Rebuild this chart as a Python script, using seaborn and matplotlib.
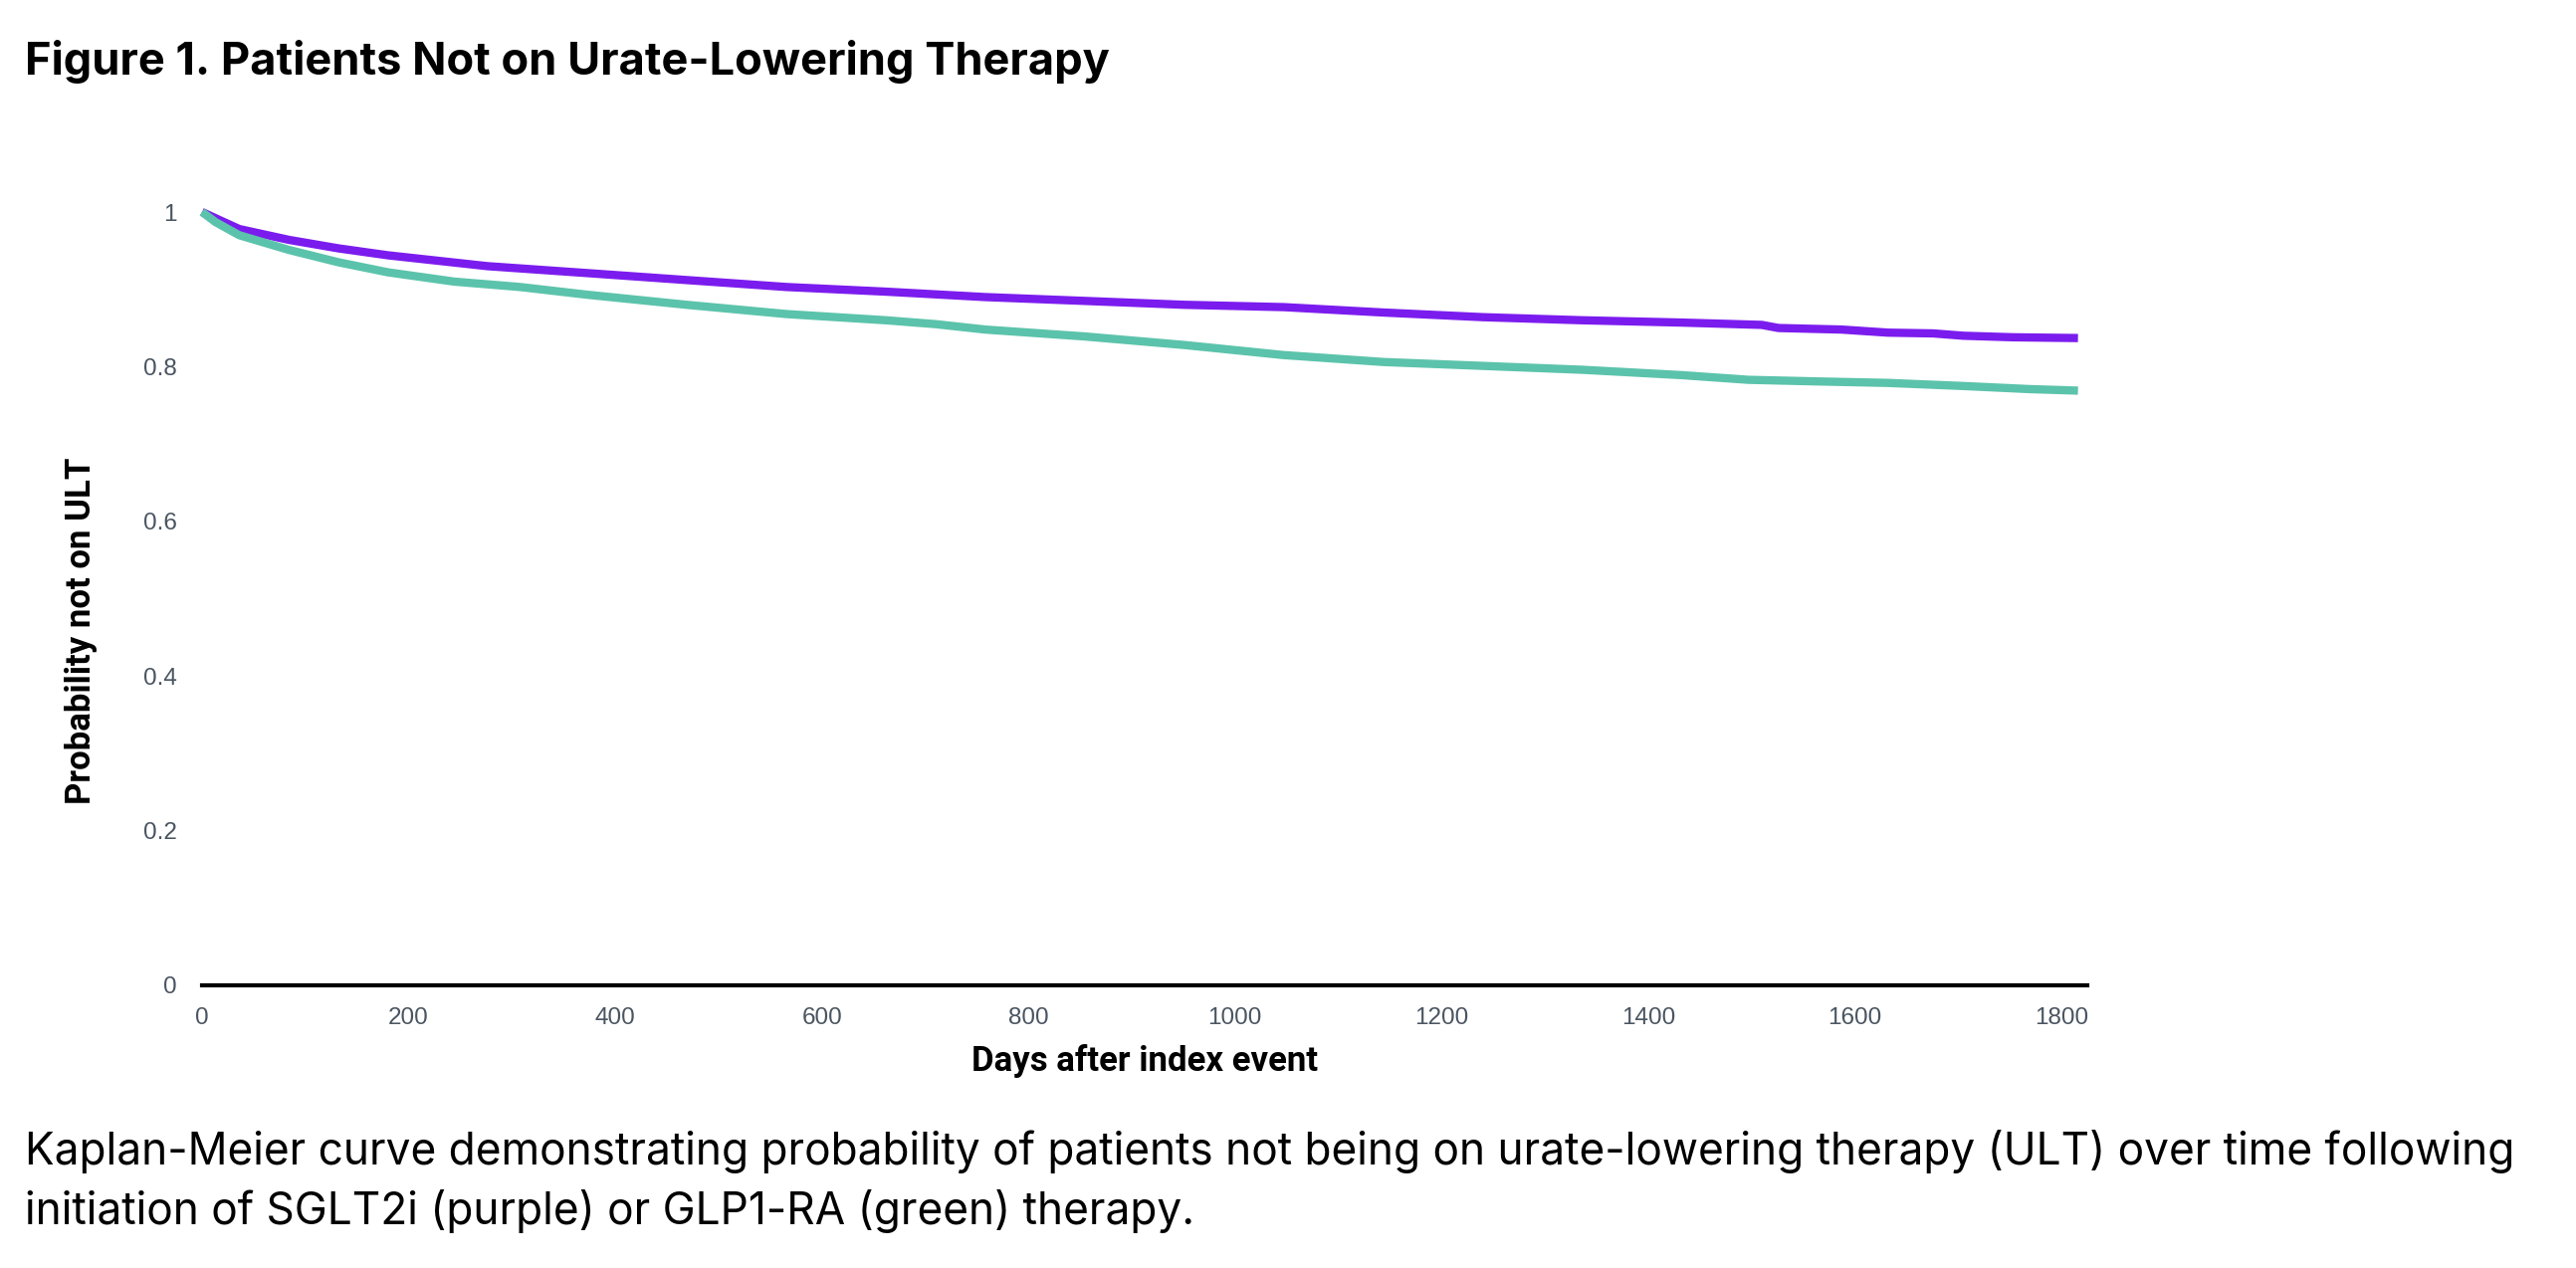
import pandas as pd
import matplotlib
matplotlib.use("Agg")
import matplotlib.pyplot as plt
import seaborn as sns

# values
days_sglt2 = [0, 13, 36, 84, 132, 180, 228, 276, 373, 469, 566, 662, 758, 855, 951,
              1047, 1144, 1240, 1336, 1433, 1510, 1526, 1587, 1632, 1676, 1705, 1753, 1816]
surv_sglt2 = [1.0, 0.992, 0.978, 0.964, 0.953, 0.944, 0.937, 0.930, 0.921, 0.912, 0.903,
              0.897, 0.890, 0.885, 0.880, 0.877, 0.870, 0.864, 0.860, 0.857, 0.854, 0.850,
              0.848, 0.844, 0.843, 0.840, 0.838, 0.837]

days_glp1 = [0, 13, 36, 84, 132, 180, 244, 308, 373, 469, 566, 662, 710, 758, 855, 951,
             1047, 1144, 1240, 1336, 1433, 1497, 1561, 1632, 1705, 1769, 1816]
surv_glp1 = [1.0, 0.987, 0.970, 0.951, 0.935, 0.922, 0.910, 0.903, 0.893, 0.880, 0.868,
             0.860, 0.855, 0.848, 0.839, 0.828, 0.815, 0.806, 0.801, 0.796, 0.789, 0.783,
             0.781, 0.779, 0.775, 0.771, 0.769]

group_names = ['SGLT2i', 'GLP1-RA']
group_colors = ['#7B1CEE', '#5BC3AB']
x_ticks = [0, 200, 400, 600, 800, 1000, 1200, 1400, 1600, 1800]
y_ticks = [0, 0.2, 0.4, 0.6, 0.8, 1]
y_tick_labels = ['0', '0.2', '0.4', '0.6', '0.8', '1']

km = pd.concat([
    pd.DataFrame({'days': days_sglt2, 'surv': surv_sglt2, 'group': group_names[0]}),
    pd.DataFrame({'days': days_glp1, 'surv': surv_glp1, 'group': group_names[1]}),
])

sns.set_style('white')
plt.rcParams['font.family'] = ['Roboto', 'DejaVu Sans']
plt.rcParams['text.color'] = 'black'

fig = plt.figure(figsize=(25.88, 12.74), dpi=100)
W, H = 2588, 1274
ax = fig.add_axes([203 / W, 1 - 990 / H, (2097 - 203) / W, (990 - 213) / H])

sns.lineplot(data=km, x='days', y='surv', hue='group', palette=group_colors,
             hue_order=group_names, linewidth=6, legend=False, ax=ax,
             estimator=None, sort=True)
for ln in ax.get_lines():
    ln.set_clip_on(False)
    ln.set_solid_capstyle('butt')

ax.set_xlim(0, 1825)
ax.set_ylim(0, 1)
ax.set_xticks(x_ticks + [1825])
ax.set_xticklabels([str(t) for t in x_ticks] + [''])
ax.set_yticks(y_ticks)
ax.set_yticklabels(y_tick_labels)
ax.set_xlabel('')
ax.set_ylabel('')

for s in ['top', 'right', 'left']:
    ax.spines[s].set_visible(False)
ax.spines['bottom'].set_color('black')
ax.spines['bottom'].set_linewidth(3)

ax.tick_params(axis='x', direction='out', length=10, width=1.8, color='black',
               pad=6, labelsize=17.5, labelcolor='#4a5561')
ax.tick_params(axis='y', direction='out', length=8, width=1.8, color='#6b7580',
               pad=10, labelsize=17.5, labelcolor='#4a5561')
for lab in ax.get_xticklabels() + ax.get_yticklabels():
    lab.set_family(['Liberation Sans', 'DejaVu Sans'])

fig.text(1150 / W, 1 - 1066 / H, 'Days after index event', ha='center', va='center',
         fontsize=25, fontweight='bold', color='black', family=['Roboto', 'DejaVu Sans'])
fig.text(82 / W, 1 - 634 / H, 'Probability not on ULT', ha='center', va='center',
         rotation=90, fontsize=25, fontweight='bold', color='black',
         family=['Roboto', 'DejaVu Sans'])

fig.text(25 / W, 1 - 62 / H, 'Figure 1. Patients Not on Urate-Lowering Therapy',
         ha='left', va='center', fontsize=32.5, fontweight='bold', color='black',
         family=['Inter', 'DejaVu Sans'])
fig.text(25 / W, 1 - 1157 / H,
         'Kaplan-Meier curve demonstrating probability of patients not being on urate-lowering '
         'therapy (ULT) over time following',
         ha='left', va='center', fontsize=31.8, color='black', family=['Inter', 'DejaVu Sans'])
fig.text(25 / W, 1 - 1217 / H,
         'initiation of SGLT2i (purple) or GLP1-RA (green) therapy.',
         ha='left', va='center', fontsize=31.8, color='black', family=['Inter', 'DejaVu Sans'])

fig.savefig('out.png', dpi=100)
